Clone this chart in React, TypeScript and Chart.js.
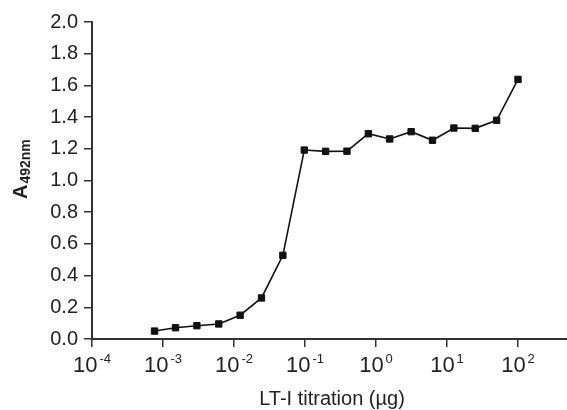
import React, { useEffect, useRef } from "react";
import { Chart, registerables } from "chart.js";

Chart.register(...registerables);

// Data
const DOSES_UG = [
  0.00076, 0.0015, 0.003, 0.0061, 0.0122, 0.0244, 0.0488, 0.0977, 0.195,
  0.39, 0.78, 1.56, 3.125, 6.25, 12.5, 25, 50, 100,
];
const ABSORBANCE = [
  0.05, 0.071, 0.084, 0.095, 0.15, 0.259, 0.528, 1.192, 1.184, 1.185, 1.295,
  1.262, 1.308, 1.254, 1.331, 1.329, 1.38, 1.638,
];
const X_TICK_VALUES = [1e-4, 1e-3, 1e-2, 1e-1, 1e0, 1e1, 1e2];
const X_TICK_EXPONENTS = ["-4", "-3", "-2", "-1", "0", "1", "2"];
const Y_TICK_VALUES = [0, 0.2, 0.4, 0.6, 0.8, 1.0, 1.2, 1.4, 1.6, 1.8, 2.0];
const X_TITLE = "LT-I titration (µg)";
const Y_TITLE_MAIN = "A";
const Y_TITLE_SUB = "492nm";

const FONT = "'Liberation Sans', Arial, Helvetica, sans-serif";
const TEXT = "#222222";
const LINE = "#333333";

const labelPlugin = {
  id: "customLabels",
  afterDraw(chart: any) {
    const ctx: CanvasRenderingContext2D = chart.ctx;
    const xs = chart.scales.x;
    const area = chart.chartArea;
    ctx.save();
    ctx.fillStyle = TEXT;
    ctx.textBaseline = "alphabetic";
    ctx.textAlign = "left";
    const baseFont = `22px ${FONT}`;
    const expFont = `13px ${FONT}`;
    const baseY = area.bottom + 33;
    xs.ticks.forEach((t: any, i: number) => {
      const px = xs.getPixelForValue(t.value);
      const exp = X_TICK_EXPONENTS[i] ?? "";
      ctx.font = baseFont;
      const wb = ctx.measureText("10").width;
      ctx.font = expFont;
      const we = ctx.measureText(exp).width;
      const gap = 2;
      const x0 = px - (wb + gap + we) / 2;
      ctx.font = baseFont;
      ctx.fillText("10", x0, baseY);
      ctx.font = expFont;
      ctx.fillText(exp, x0 + wb + gap, baseY - 9);
    });

    // x title
    ctx.font = `20px ${FONT}`;
    ctx.textAlign = "center";
    ctx.fillText(X_TITLE, 332, area.bottom + 66);

    // y title (rotated)
    ctx.translate(27, 199);
    ctx.rotate(-Math.PI / 2);
    ctx.textAlign = "left";
    ctx.font = `bold 20px ${FONT}`;
    const wa = ctx.measureText(Y_TITLE_MAIN).width;
    ctx.fillText(Y_TITLE_MAIN, 0, 0);
    ctx.font = `bold 14px ${FONT}`;
    ctx.fillText(Y_TITLE_SUB, wa + 1, 3);
    ctx.restore();
  },
};

export default function App() {
  const ref = useRef<HTMLCanvasElement | null>(null);

  useEffect(() => {
    if (!ref.current) return;
    const chart = new Chart(ref.current, {
      type: "line",
      data: {
        datasets: [
          {
            data: DOSES_UG.map((x, i) => ({ x, y: ABSORBANCE[i] })),
            borderColor: "#111111",
            borderWidth: 1.6,
            backgroundColor: "#111111",
            pointStyle: "rect",
            pointRadius: 4.5,
            pointBorderWidth: 1,
            pointBorderColor: "#111111",
            pointBackgroundColor: "#111111",
            tension: 0,
            fill: false,
          },
        ],
      },
      options: {
        responsive: false,
        animation: false,
        layout: { autoPadding: false, padding: { left: 0, right: 0, top: 22, bottom: 0 } },
        plugins: {
          legend: { display: false },
          tooltip: { enabled: false },
          title: { display: false },
        },
        scales: {
          x: {
            type: "logarithmic",
            min: 1e-4,
            max: 490,
            afterBuildTicks: (s: any) => {
              s.ticks = X_TICK_VALUES.map((v) => ({ value: v }));
            },
            afterFit: (s: any) => {
              s.height = 71;
            },
            ticks: { display: false },
            grid: {
              display: true,
              drawOnChartArea: false,
              drawTicks: true,
              tickLength: 8,
              color: LINE,
              lineWidth: 1.5,
            },
            border: { display: true, color: LINE, width: 2 },
          },
          y: {
            type: "linear",
            min: 0,
            max: 2,
            afterBuildTicks: (s: any) => {
              s.ticks = Y_TICK_VALUES.map((v) => ({ value: v }));
            },
            afterFit: (s: any) => {
              s.width = 92;
            },
            ticks: {
              color: TEXT,
              font: { family: FONT, size: 20 },
              padding: 6,
              callback: (v: any) => Number(v).toFixed(1),
            },
            grid: {
              display: true,
              drawOnChartArea: false,
              drawTicks: true,
              tickLength: 8,
              color: LINE,
              lineWidth: 1.5,
            },
            border: { display: true, color: LINE, width: 2 },
          },
        },
      },
      plugins: [labelPlugin],
    });
    return () => chart.destroy();
  }, []);

  return (
    <div style={{ position: "fixed", left: 0, top: 0, width: 567, height: 410, background: "#fff" }}>
      <canvas ref={ref} width={567} height={410} style={{ width: 567, height: 410, display: "block" }} />
    </div>
  );
}
